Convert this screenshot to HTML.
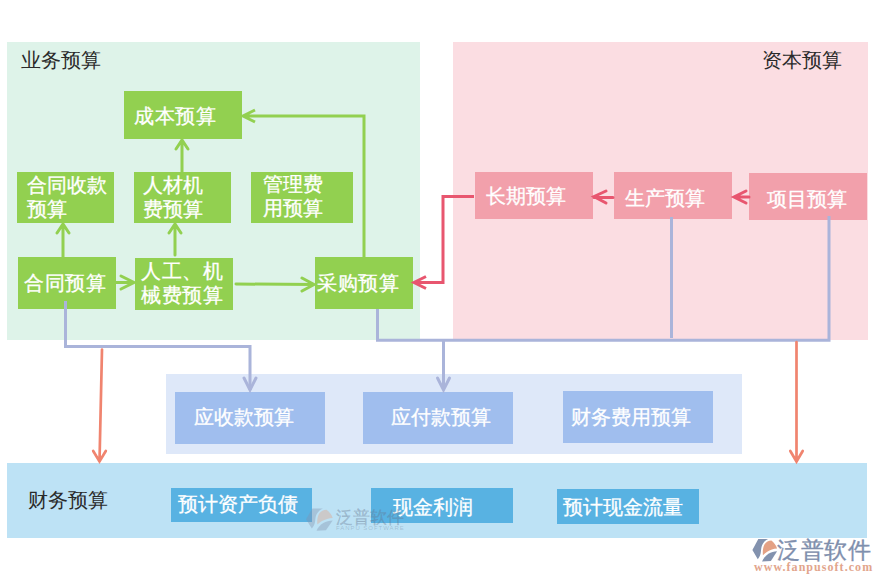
<!DOCTYPE html>
<html><head><meta charset="utf-8">
<style>
html,body{margin:0;padding:0;background:#fff;}
body{width:882px;height:583px;position:relative;overflow:hidden;font-family:"Liberation Sans",sans-serif;}
.r{position:absolute;}
.t{position:absolute;white-space:nowrap;color:#fff;font-size:20px;line-height:24px;-webkit-text-stroke:0.3px #fff;}
.lbl{position:absolute;white-space:nowrap;color:#2a2a2a;font-family:"Liberation Serif",serif;font-size:20px;line-height:22px;}
.g{background:#92D050;}
.p{background:#F2A0AB;}
.b{background:#A0BEEE;}
.d{background:#58B2E2;}
svg{position:absolute;left:0;top:0;}
</style></head><body>
<!-- regions -->
<div class="r" style="left:7px;top:42px;width:413px;height:298px;background:#DEF3E9;"></div>
<div class="r" style="left:453px;top:42px;width:415px;height:298px;background:#FBDDE2;"></div>
<div class="r" style="left:166px;top:374px;width:576px;height:80px;background:#DEE8F9;"></div>
<div class="r" style="left:7px;top:463px;width:860px;height:75px;background:#BDE2F5;"></div>

<div class="lbl" style="left:21px;top:49px;">业务预算</div>
<div class="lbl" style="left:762px;top:49px;">资本预算</div>
<div class="lbl" style="left:28px;top:489px;">财务预算</div>

<!-- green boxes -->
<div class="r g" style="left:124px;top:91px;width:118px;height:48px;"></div>
<div class="r g" style="left:17px;top:172px;width:97px;height:51px;"></div>
<div class="r g" style="left:134px;top:172px;width:97px;height:51px;"></div>
<div class="r g" style="left:251px;top:172px;width:102px;height:51px;"></div>
<div class="r g" style="left:18px;top:257px;width:98px;height:52px;"></div>
<div class="r g" style="left:135px;top:258px;width:98px;height:52px;"></div>
<div class="r g" style="left:315px;top:257px;width:98px;height:52px;"></div>

<!-- pink boxes -->
<div class="r p" style="left:475px;top:172px;width:118px;height:47px;"></div>
<div class="r p" style="left:614px;top:172px;width:118px;height:47px;"></div>
<div class="r p" style="left:749px;top:173px;width:118px;height:47px;"></div>

<!-- blue boxes -->
<div class="r b" style="left:175px;top:392px;width:150px;height:52px;"></div>
<div class="r b" style="left:363px;top:392px;width:150px;height:52px;"></div>
<div class="r b" style="left:563px;top:391px;width:150px;height:52px;"></div>

<!-- dark blue boxes -->
<div class="r d" style="left:171px;top:488px;width:141px;height:34px;"></div>
<div class="r d" style="left:371px;top:488px;width:142px;height:35px;"></div>
<div class="r d" style="left:557px;top:489px;width:142px;height:35px;"></div>

<!-- texts -->
<div class="t" style="left:134px;top:104px;;letter-spacing:0.6px">成本预算</div>
<div class="t" style="left:27px;top:173px;">合同收款</div>
<div class="t" style="left:27px;top:197px;">预算</div>
<div class="t" style="left:143px;top:173px;">人材机</div>
<div class="t" style="left:143px;top:197px;">费预算</div>
<div class="t" style="left:263px;top:172px;">管理费</div>
<div class="t" style="left:263px;top:196px;">用预算</div>
<div class="t" style="left:24px;top:271px;;letter-spacing:0.6px">合同预算</div>
<div class="t" style="left:141px;top:259px;letter-spacing:0.6px">人工、机</div>
<div class="t" style="left:141px;top:283px;letter-spacing:0.6px">械费预算</div>
<div class="t" style="left:317px;top:271px;;letter-spacing:0.6px">采购预算</div>

<div class="t" style="left:486px;top:184px;">长期预算</div>
<div class="t" style="left:625px;top:186px;">生产预算</div>
<div class="t" style="left:767px;top:187px;">项目预算</div>

<div class="t" style="left:194px;top:405px;">应收款预算</div>
<div class="t" style="left:391px;top:405px;">应付款预算</div>
<div class="t" style="left:571px;top:405px;">财务费用预算</div>

<div class="t" style="left:178px;top:492px;">预计资产负债</div>
<div class="t" style="left:393px;top:495px;">现金利润</div>
<div class="t" style="left:563px;top:495px;">预计现金流量</div>

<svg width="882" height="583" viewBox="0 0 882 583">
<g fill="none" stroke-width="3" stroke-linecap="round" stroke-linejoin="miter">
<!-- green -->
<g stroke="#92D050">
<path d="M63 257V224 M57 233L63 224L69 233"/>
<path d="M175 255V224 M169 233L175 224L181 233"/>
<path d="M182 172V140 M176 149L182 140L188 149"/>
<path d="M116 282.5H134 M121 276L134 282.5L121 289"/>
<path d="M236 284L314 284.5 M302 278L314 284.5L302 291"/>
<path d="M364 257V116H243 M255 110L243 116L255 122" stroke-linecap="butt"/>
</g>
<!-- red -->
<g stroke="#E8566F">
<path d="M749 197H734 M746 191L734 197L746 203"/>
<path d="M613 197.5H594 M606 191L594 196.5L606 203"/>
<path d="M474 196.5H443V282.5H414 M426 276.5L414 282.5L426 288.5" stroke-linecap="butt"/>
</g>
<!-- lavender -->
<g stroke="#AAB4DA" stroke-linecap="butt">
<path d="M65.5 301V346.5H250V390"/>
<path d="M244 378L250 390L256 378" stroke-linecap="round"/>
<path d="M377.5 309V340.3H829V216"/>
<path d="M671.5 217V338"/>
<path d="M443.5 340V390"/>
<path d="M437.5 378L443.5 390L449.5 378" stroke-linecap="round"/>
</g>
<!-- orange -->
<g stroke="#F0846F" stroke-width="2.7">
<path d="M102 349.5L99.5 461.5 M93.2 451L99.5 461.5L105.8 451"/>
<path d="M796.5 342V461.5 M790.3 451L796.5 461.5L802.7 451"/>
</g>
</g>
</svg>

<svg width="882" height="583" viewBox="0 0 882 583">
<defs>
<g id="ico">
<path fill="#8392AE" d="M10.3 4.1L20.1 4.1C17.5 5.2 15.6 7.2 14.2 10C13.3 12 13.2 14 12.9 16.5C12.6 19.5 11.6 22 9.8 24.2L4.4 14.9Z"/>
<path fill="#E4A184" d="M14.9 20.3C14.6 16.5 14.8 12.5 16.6 9.2C18.2 6.8 20.6 5.5 23.4 5.4C26.2 7.5 28.2 10.4 29.1 13.6C25.5 13.8 22.2 15 19.2 16.8C17.5 17.8 16 19 14.9 20.3Z"/>
<path fill="#8392AE" d="M14.1 26.5C15.3 23.5 17.5 20.8 20.4 18.8C23 17.2 26 16.3 29.1 16.2L22.9 26Z"/>
</g>
</defs>
<use href="#ico" transform="translate(748 535)"/>
<g opacity="0.38"><use href="#ico" transform="translate(301.25 504.3) scale(1.08 1)"/></g>
</svg>
<div style="position:absolute;left:777px;top:536px;font-size:23px;line-height:28px;letter-spacing:0.6px;color:#7F8FAD;-webkit-text-stroke:0.35px #7F8FAD;white-space:nowrap;">泛普软件</div>
<div style="position:absolute;left:754px;top:560px;font-family:'Liberation Serif',serif;font-size:12px;line-height:14px;color:#E2A58C;letter-spacing:1.05px;font-weight:bold;white-space:nowrap;">www.fanpusoft.com</div>
<div style="position:absolute;left:336px;top:507px;font-size:17px;line-height:21px;color:rgba(100,115,140,0.32);-webkit-text-stroke:0.4px rgba(100,115,140,0.32);white-space:nowrap;">泛普软件</div>
<div style="position:absolute;left:336px;top:525px;font-size:6px;line-height:7px;color:rgba(100,115,140,0.32);letter-spacing:0.95px;white-space:nowrap;">FANPU SOFTWARE</div>
</body></html>
